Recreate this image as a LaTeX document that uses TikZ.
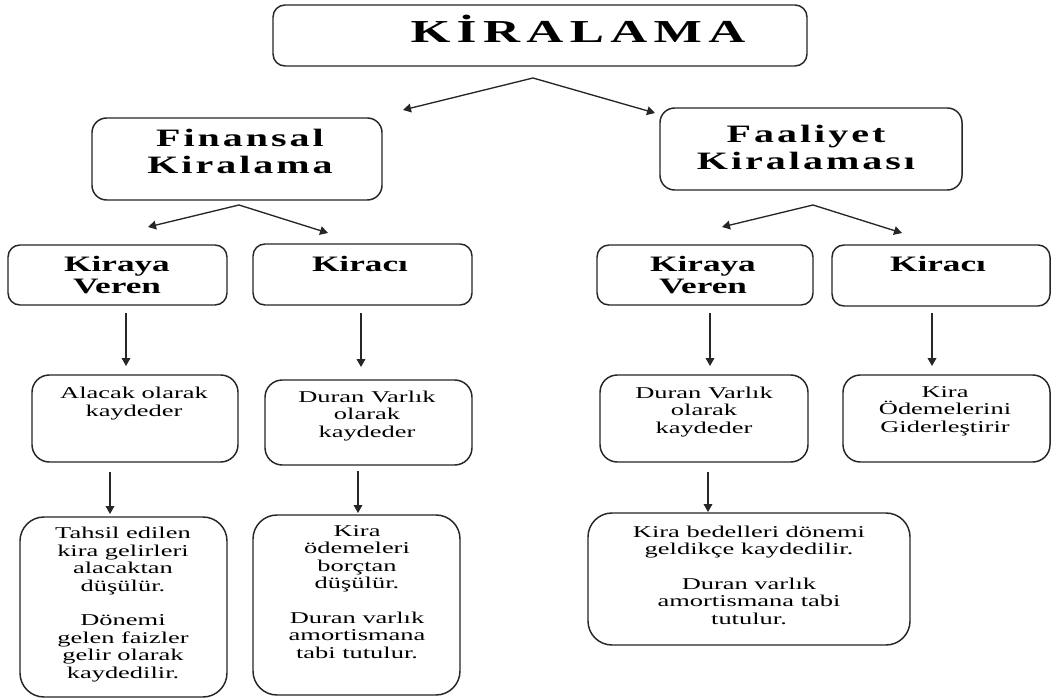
\documentclass[tikz,border=0pt]{standalone}
\usepackage{fontspec}
\setmainfont{Liberation Serif}[FakeStretch=1.6]
\usetikzlibrary{arrows.meta}
\newcommand\mkbox[6]{\node[box, rounded corners=#6pt, minimum width={(#4-#2)*0.75pt}, minimum height={(#5-#3)*0.75pt}] (#1) at ({(#2+#4)/2},{(#3+#5)/2}) {};}
\begin{document}
\begin{tikzpicture}[x=0.75pt,y=-0.75pt,
  box/.style={draw=black!85, line width=1.1pt, inner sep=0pt, outer sep=0pt, fill=white},
  arr/.style={draw=black!85, line width=1pt, -{Triangle[length=6pt,width=6.5pt]}},
  titlef/.style={font=\fontsize{24}{26}\selectfont\bfseries\addfontfeature{LetterSpace=20}, anchor=base, inner sep=0pt},
  lvtwo/.style={font=\fontsize{18.75}{20.5}\selectfont\bfseries\addfontfeature{LetterSpace=12}, align=center, anchor=base, inner sep=0pt},
  lvthree/.style={font=\fontsize{16.5}{16.5}\selectfont\bfseries, align=center, anchor=base, inner sep=0pt},
  bodyt/.style={font=\fontsize{12.4}{13.05}\selectfont, align=center, anchor=base, inner sep=0pt}
]
\useasboundingbox[fill=white] (0,0) rectangle (1055,698);

% boxes
\mkbox{top}{273}{5}{807}{66}{9}
\mkbox{fin}{92}{118}{382}{200}{11}
\mkbox{faa}{660}{108}{962}{190}{11}
\mkbox{lkv}{8}{245}{227}{305}{9}
\mkbox{lk}{253}{244}{472}{305}{9}
\mkbox{rkv}{597}{245}{813}{305}{9}
\mkbox{rk}{832}{245}{1050}{306}{9}
\mkbox{ala}{32}{375}{238}{462}{13}
\mkbox{dvl}{265}{380}{472}{465}{13}
\mkbox{dvr}{600}{375}{808}{462}{13}
\mkbox{ko}{843}{375}{1050}{462}{13}
\mkbox{tah}{20}{517}{227}{697}{18}
\mkbox{kod}{253}{515}{460}{695}{18}
\mkbox{kbd}{588}{513}{910}{645}{18}

% texts (anchor = baseline of the last line)
\node[titlef] (t-top) at (578,43) {KİRALAMA};
\node[lvtwo] (t-fin) at (240,174) {Finansal\\Kiralama};
\node[lvtwo] (t-faa) at (806,170) {Faaliyet\\Kiralaması};
\node[lvthree] (t-lkv) at (117,293) {Kiraya\\Veren};
\node[lvthree] (t-lk) at (360,272) {Kiracı};
\node[lvthree] (t-rkv) at (703,293) {Kiraya\\Veren};
\node[lvthree] (t-rk) at (938,272) {Kiracı};
\node[bodyt] (t-ala) at (134,416) {Alacak olarak\\kaydeder};
\node[bodyt] (t-dvl) at (367,437) {Duran Varlık\\olarak\\kaydeder};
\node[bodyt] (t-dvr) at (704,433) {Duran Varlık\\olarak\\kaydeder};
\node[bodyt] (t-ko) at (945,432) {Kira\\Ödemelerini\\Giderleştirir};
\node[bodyt] (t-tah) at (123,678) {Tahsil edilen\\kira gelirleri\\alacaktan\\düşülür.\\[13.05pt]Dönemi\\gelen faizler\\gelir olarak\\kaydedilir.};
\node[bodyt] (t-kod) at (357,658) {Kira\\ödemeleri\\borçtan\\düşülür.\\[13.05pt]Duran varlık\\amortismana\\tabi tutulur.};
\node[bodyt] (t-kbd) at (749,624) {Kira bedelleri dönemi\\geldikçe kaydedilir.\\[13.05pt]Duran varlık\\amortismana tabi\\tutulur.};

% connector points
\coordinate (a-top) at (533,78);
\coordinate (e-fin) at (403,110);
\coordinate (e-faa) at (655,113);
\coordinate (a-fin) at (239,205);
\coordinate (e-lkv) at (148,227);
\coordinate (e-lk) at (328,233);
\coordinate (a-faa) at (813,205);
\coordinate (e-rkv) at (722,227);
\coordinate (e-rk) at (902,233);
\coordinate (s-lkv) at (126,313);
\coordinate (e-ala) at (126,366);
\coordinate (s-lk) at (361,313);
\coordinate (e-dvl) at (361,367);
\coordinate (s-rkv) at (710,313);
\coordinate (e-dvr) at (710,366);
\coordinate (s-rk) at (932,313);
\coordinate (e-ko) at (932,366);
\coordinate (s-ala) at (110,472);
\coordinate (e-tah) at (110,514);
\coordinate (s-dvl) at (358,471);
\coordinate (e-kod) at (358,513);
\coordinate (s-dvr) at (708,472);
\coordinate (e-kbd) at (708,512);

\draw[arr] (a-top) -- (e-fin);
\draw[arr] (a-top) -- (e-faa);
\draw[arr] (a-fin) -- (e-lkv);
\draw[arr] (a-fin) -- (e-lk);
\draw[arr] (a-faa) -- (e-rkv);
\draw[arr] (a-faa) -- (e-rk);
\draw[arr] (s-lkv) -- (e-ala);
\draw[arr] (s-lk) -- (e-dvl);
\draw[arr] (s-rkv) -- (e-dvr);
\draw[arr] (s-rk) -- (e-ko);
\draw[arr] (s-ala) -- (e-tah);
\draw[arr] (s-dvl) -- (e-kod);
\draw[arr] (s-dvr) -- (e-kbd);
\end{tikzpicture}
\end{document}
